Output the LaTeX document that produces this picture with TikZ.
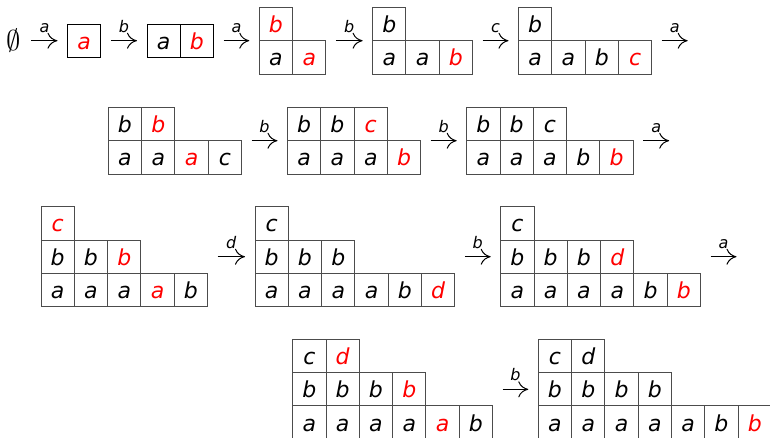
\documentclass[tikz,border=0pt]{standalone}
\usepackage{fontspec}
\usetikzlibrary{arrows.meta}
\newfontfamily\letterfont{DejaVu Sans}
\newcommand{\nw}{\color{red}}
% one row of cells: name, left x, top y, letters
\newcommand{\cellrow}[4]{%
  \foreach \t [count=\i] in {#4}
    \node[cell] (#1-\i) at ({#2+(\i-0.5)*33.3},{#3+16.65}) {\t};}

\begin{document}
\begin{tikzpicture}[
  x=1pt,
  y=-1pt,
  cell/.style={draw=black!70,line width=0.9pt,minimum size=33.3pt,inner sep=0pt,
    text height=17pt,text depth=0pt,font=\letterfont\itshape\fontsize{22}{24}\selectfont},
  arr/.style={-{Computer Modern Rightarrow[length=10pt,width=16pt]},line width=1pt,
    shorten <=10pt,shorten >=10pt},
  lab/.style={above=8pt,inner sep=0pt,text depth=0pt,
    font=\letterfont\itshape\fontsize{16}{18}\selectfont}
]
  \useasboundingbox (0,0) rectangle (770,437);

  % Row one.
  \node[inner sep=0pt,scale=1.15,font=\fontsize{24.88}{30}\selectfont] (e) at (14,40.7) {$\emptyset$};
  \begin{scope}[cell/.append style={draw=black}]
    \cellrow{t1}{67.5}{24}{\nw a}
    \cellrow{t2}{147}{24}{a,\nw b}
  \end{scope}
  \cellrow{t3t}{259.3}{7.4}{\nw b}
  \cellrow{t3b}{259.3}{40.7}{a,\nw a}
  \cellrow{t4t}{372.6}{7.4}{b}
  \cellrow{t4b}{372.6}{40.7}{a,a,\nw b}
  \cellrow{t5t}{518.5}{7.4}{b}
  \cellrow{t5b}{518.5}{40.7}{a,a,b,\nw c}

  \coordinate (t1-in) at (67.5,40.7);
  \coordinate (t1-out) at (100.8,40.7);
  \coordinate (t2-in) at (147,40.7);
  \coordinate (t2-out) at (213.6,40.7);
  \coordinate (t3-in) at (259.3,40.7);
  \coordinate (t3-out) at (325.9,40.7);
  \coordinate (t4-in) at (372.6,40.7);
  \coordinate (t4-out) at (472.5,40.7);
  \coordinate (t5-in) at (518.5,40.7);
  \coordinate (t5-out) at (651.7,40.7);
  \coordinate (end1) at (697.7,40.7);

  \draw[arr,shorten <=10pt] (e.east) -- node[lab]{a} (t1-in);
  \draw[arr] (t1-out) -- node[lab]{b} (t2-in);
  \draw[arr] (t2-out) -- node[lab]{a} (t3-in);
  \draw[arr] (t3-out) -- node[lab]{b} (t4-in);
  \draw[arr] (t4-out) -- node[lab]{c} (t5-in);
  \draw[arr] (t5-out) -- node[lab]{a} (end1);

  % Row two.
  \cellrow{t6t}{108.3}{107.4}{b,\nw b}
  \cellrow{t6b}{108.3}{140.7}{a,a,\nw a,c}
  \cellrow{t7t}{287.5}{107.4}{b,b,\nw c}
  \cellrow{t7b}{287.5}{140.7}{a,a,a,\nw b}
  \cellrow{t8t}{466.7}{107.4}{b,b,c}
  \cellrow{t8b}{466.7}{140.7}{a,a,a,b,\nw b}

  \coordinate (t6-out) at (241.5,140.7);
  \coordinate (t7-in) at (287.5,140.7);
  \coordinate (t7-out) at (420.7,140.7);
  \coordinate (t8-in) at (466.7,140.7);
  \coordinate (t8-out) at (633.2,140.7);
  \coordinate (end2) at (679.2,140.7);

  \draw[arr] (t6-out) -- node[lab]{b} (t7-in);
  \draw[arr] (t7-out) -- node[lab]{b} (t8-in);
  \draw[arr] (t8-out) -- node[lab]{a} (end2);

  % Row three.
  \cellrow{t9t}{41}{206.7}{\nw c}
  \cellrow{t9m}{41}{240}{b,b,\nw b}
  \cellrow{t9b}{41}{273.3}{a,a,a,\nw a,b}
  \cellrow{t10t}{255}{206.7}{c}
  \cellrow{t10m}{255}{240}{b,b,b}
  \cellrow{t10b}{255}{273.3}{a,a,a,a,b,\nw d}
  \cellrow{t11t}{500.7}{206.7}{c}
  \cellrow{t11m}{500.7}{240}{b,b,b,\nw d}
  \cellrow{t11b}{500.7}{273.3}{a,a,a,a,b,\nw b}

  \coordinate (t9-out) at (207.5,256.7);
  \coordinate (t10-in) at (255,256.7);
  \coordinate (t10-out) at (454.8,256.7);
  \coordinate (t11-in) at (500.7,256.7);
  \coordinate (t11-out) at (700.5,256.7);
  \coordinate (end3) at (746.5,256.7);

  \draw[arr] (t9-out) -- node[lab]{d} (t10-in);
  \draw[arr] (t10-out) -- node[lab]{b} (t11-in);
  \draw[arr] (t11-out) -- node[lab]{a} (end3);

  % Row four.
  \cellrow{t12t}{292.7}{339.3}{c,\nw d}
  \cellrow{t12m}{292.7}{372.6}{b,b,b,\nw b}
  \cellrow{t12b}{292.7}{405.9}{a,a,a,a,\nw a,b}
  \cellrow{t13t}{538.3}{339.3}{c,d}
  \cellrow{t13m}{538.3}{372.6}{b,b,b,b}
  \cellrow{t13b}{538.3}{405.9}{a,a,a,a,a,b,\nw b}

  \coordinate (t12-out) at (492.5,389.3);
  \coordinate (t13-in) at (538.3,389.3);

  \draw[arr] (t12-out) -- node[lab]{b} (t13-in);
\end{tikzpicture}
\end{document}
